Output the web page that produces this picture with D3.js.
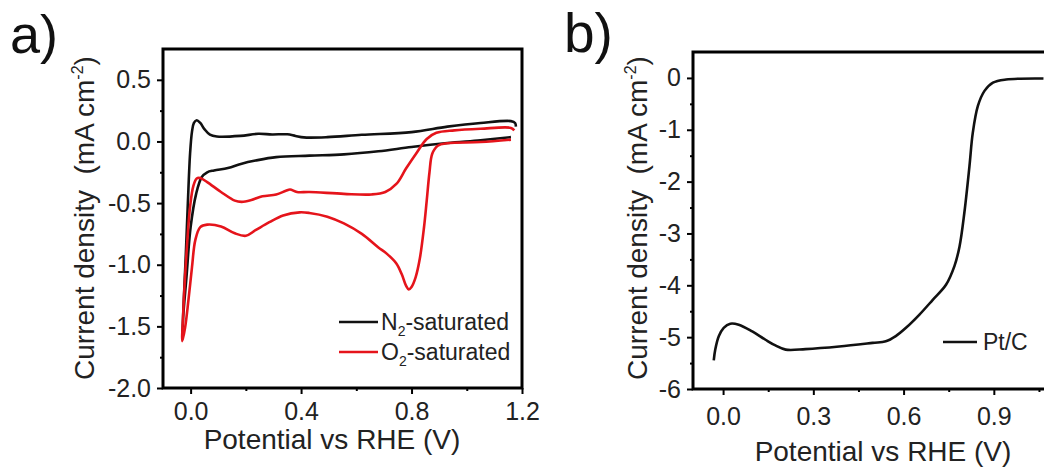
<!DOCTYPE html>
<html>
<head>
<meta charset="utf-8">
<script src="https://cdn.jsdelivr.net/npm/d3@7"></script>
<style>
body{margin:0;background:#fff}
svg{display:block;font-family:"Liberation Sans",Arial,sans-serif}
.axis path{display:none}
.axis line{stroke:#000;stroke-width:2}
.axis text{font-size:25px;fill:#222;font-family:"Liberation Sans",Arial,sans-serif}
.label{font-size:28px;fill:#222;white-space:pre}
.legend{font-size:23px;fill:#222}
.panel{fill:#111}
</style>
</head>
<body>
<svg id="fig" width="1044" height="470"></svg>
<script>
// ---- panel a: cyclic voltammograms (potential V, current mA cm-2)
// lower (cathodic) branch right->left, then upper branch left->right
let n2Volt = [1.16,1.05,0.93,0.80,0.68,0.555,0.43,0.31,0.235,0.185,0.135,0.085,0.06,0.04,0.02,0.0,-0.015,-0.027,-0.03,
              -0.025,-0.018,-0.01,-0.002,0.005,0.012,0.022,0.035,0.05,0.07,0.095,0.18,0.245,0.295,0.35,0.38,0.41,0.495,0.62,0.80,0.93,1.05,1.16,1.175,1.178]
let n2Curr = [0.035,0.01,-0.013,-0.045,-0.08,-0.105,-0.115,-0.127,-0.155,-0.18,-0.215,-0.235,-0.25,-0.29,-0.425,-0.695,-1.10,-1.425,-1.60,
              -1.30,-0.95,-0.50,-0.10,0.08,0.15,0.172,0.15,0.10,0.055,0.04,0.045,0.062,0.057,0.058,0.045,0.033,0.035,0.054,0.076,0.12,0.15,0.165,0.15,0.12]

let o2Volt = [1.16,1.05,0.93,0.895,0.875,0.865,0.855,0.845,0.83,0.815,0.80,0.79,0.78,0.765,0.745,0.71,0.68,0.62,0.555,0.495,0.43,0.395,0.335,0.285,0.235,0.2,0.16,0.11,0.06,0.035,0.017,0.005,-0.008,-0.02,-0.03,
              -0.027,-0.015,-0.002,0.01,0.022,0.035,0.06,0.11,0.16,0.185,0.22,0.26,0.31,0.345,0.36,0.385,0.43,0.555,0.655,0.705,0.745,0.78,0.82,0.855,0.89,0.955,1.05,1.16,1.172]
let o2Curr = [0.015,-0.005,-0.015,-0.035,-0.10,-0.25,-0.48,-0.70,-0.95,-1.10,-1.18,-1.20,-1.17,-1.08,-0.99,-0.91,-0.86,-0.75,-0.665,-0.61,-0.58,-0.575,-0.60,-0.655,-0.72,-0.765,-0.745,-0.69,-0.675,-0.695,-0.80,-1.02,-1.29,-1.51,-1.62,
              -1.40,-0.91,-0.53,-0.36,-0.30,-0.297,-0.33,-0.41,-0.48,-0.49,-0.475,-0.445,-0.43,-0.40,-0.39,-0.41,-0.41,-0.425,-0.43,-0.41,-0.345,-0.22,-0.087,0.02,0.07,0.09,0.103,0.11,0.09]

let aXTicks = [0.0,0.4,0.8,1.2]
let aXMinor = [0.2,0.6,1.0]
let aYTicks = [0.5,0.0,-0.5,-1.0,-1.5,-2.0]
let aYMinor = [0.25,-0.25,-0.75,-1.25,-1.75]
let aLegend = ["N", "O"]

// ---- panel b: LSV of Pt/C
let ptVolt = [-0.031,-0.026,-0.014,0.002,0.024,0.052,0.097,0.141,0.174,0.208,0.274,0.386,0.497,0.541,0.574,0.608,0.652,0.697,0.741,0.769,0.786,0.802,0.819,0.83,0.847,0.869,0.897,0.941,1.052,1.065]
let ptCurr = [-5.45,-5.24,-4.98,-4.82,-4.74,-4.76,-4.89,-5.05,-5.16,-5.24,-5.23,-5.18,-5.11,-5.08,-4.98,-4.82,-4.57,-4.28,-3.99,-3.63,-3.25,-2.60,-1.70,-1.06,-0.54,-0.25,-0.09,-0.03,-0.01,-0.01]

let bXTicks = [0.0,0.3,0.6,0.9]
let bXMinor = [0.15,0.45,0.75,1.05]
let bYTicks = [0,-1,-2,-3,-4,-5,-6]
let bYMinor = [-0.5,-1.5,-2.5,-3.5,-4.5,-5.5]

let svg = d3.select("#fig")
svg.append("rect").attr("width",1044).attr("height",470).attr("fill","#fff")

function panel(box, xDom, yDom, xt, xm, yt, ym, yFmt, xPad)
{
    let x = d3.scaleLinear().domain(xDom).range([box.l, box.r])
    let y = d3.scaleLinear().domain(yDom).range([box.b, box.t])
    // minor ticks
    svg.append("g").attr("class","axis").attr("transform",`translate(0,${box.b})`)
        .call(d3.axisBottom(x).tickValues(xm).tickSize(3).tickFormat(""))
    svg.append("g").attr("class","axis").attr("transform",`translate(${box.l},0)`)
        .call(d3.axisLeft(y).tickValues(ym).tickSize(3).tickFormat(""))
    // major ticks
    svg.append("g").attr("class","axis").attr("transform",`translate(0,${box.b})`)
        .call(d3.axisBottom(x).tickValues(xt).tickSize(6).tickPadding(xPad).tickFormat(d => d.toFixed(1)))
    svg.append("g").attr("class","axis").attr("transform",`translate(${box.l},0)`)
        .call(d3.axisLeft(y).tickValues(yt).tickSize(6).tickPadding(6).tickFormat(yFmt))
    return {x:x, y:y}
}

function curve(sc, xs, ys, color)
{
    let pts = xs.map((v,i) => [v, ys[i]])
    let line = d3.line().x(d => sc.x(d[0])).y(d => sc.y(d[1])).curve(d3.curveCatmullRom.alpha(0.5))
    svg.append("path").datum(pts)
        .attr("d", line)
        .attr("fill","none")
        .attr("stroke", color)
        .attr("stroke-width", 2.6)
        .attr("stroke-linejoin","round")
}

function frame(box)
{
    svg.append("rect").attr("x",box.l).attr("y",box.t)
        .attr("width",box.r-box.l).attr("height",box.b-box.t)
        .attr("fill","none").attr("stroke","#000").attr("stroke-width",3)
}

function yTitle(cx, cy)
{
    let t = svg.append("text").attr("class","label")
        .attr("transform",`translate(${cx},${cy}) rotate(-90)`)
        .attr("text-anchor","middle")
    t.append("tspan").text("Current density  (mA cm")
    t.append("tspan").attr("dy",-11).attr("font-size",16).text("-2")
    t.append("tspan").attr("dy",11).text(")")
}

// ===== panel a
let boxA = {l:163, r:522, t:49, b:388}
let sa = panel(boxA, [-0.1,1.2], [-2.0,0.75], aXTicks, aXMinor, aYTicks, aYMinor, d => d.toFixed(1), 8)
curve(sa, n2Volt, n2Curr, "#111")
curve(sa, o2Volt, o2Curr, "#e5141b")
frame(boxA)

let legColors = ["#111","#e5141b"]
aLegend.forEach(function (d,i){
    let ly = 322 + i*30
    svg.append("line").attr("x1",339).attr("x2",378).attr("y1",ly).attr("y2",ly)
        .attr("stroke",legColors[i]).attr("stroke-width",2.6)
    let t = svg.append("text").attr("class","legend").attr("x",381).attr("y",ly+8)
    t.append("tspan").text(d)
    t.append("tspan").attr("dy",6).attr("font-size",14).text("2")
    t.append("tspan").attr("dy",-6).text("-saturated")
})

svg.append("text").attr("class","label").attr("x",332).attr("y",449)
    .attr("text-anchor","middle").text("Potential vs RHE (V)")
yTitle(94, 218)
svg.append("text").attr("class","panel").attr("font-size",54).attr("x",10).attr("y",53).text("a)")

// ===== panel b
let boxB = {l:693, r:1054, t:52, b:389}
let sb = panel(boxB, [-0.1,1.1], [-6,0.5], bXTicks, bXMinor, bYTicks, bYMinor, d => d.toFixed(0), 12)
curve(sb, ptVolt, ptCurr, "#111")
frame(boxB)

svg.append("line").attr("x1",943).attr("x2",977).attr("y1",342).attr("y2",342)
    .attr("stroke","#111").attr("stroke-width",2.6)
svg.append("text").attr("class","legend").attr("x",983).attr("y",350).text("Pt/C")

svg.append("text").attr("class","label").attr("x",883).attr("y",461)
    .attr("text-anchor","middle").text("Potential vs RHE (V)")
yTitle(647, 218)
svg.append("text").attr("class","panel").attr("font-size",55).attr("x",564).attr("y",52).text("b)")
</script>
</body>
</html>
